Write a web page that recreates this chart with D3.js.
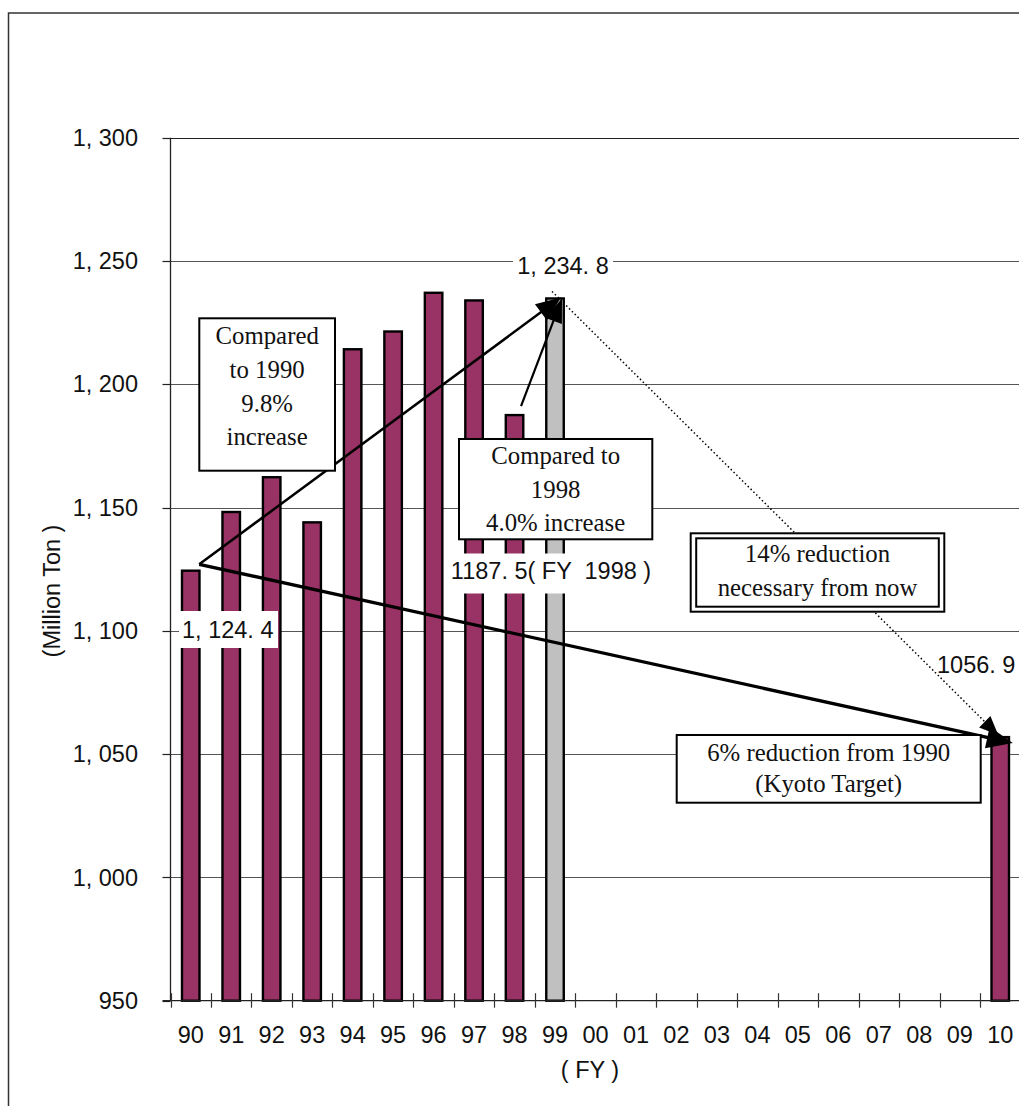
<!DOCTYPE html>
<html>
<head>
<meta charset="utf-8">
<script src="https://cdn.jsdelivr.net/npm/d3@7"></script>
<style>
  html, body { margin: 0; padding: 0; background: #fff; }
  svg { display: block; }
  text { white-space: pre; }
</style>
</head>
<body>
<svg id="chart" width="1019" height="1106"></svg>
<script>
// ---- data ----
const categories = ["90","91","92","93","94","95","96","97","98","99","00","01","02","03","04","05","06","07","08","09","10"];
const values = [1124.4, 1148.2, 1162.3, 1144.0, 1214.2, 1221.4, 1237.1, 1234.0, 1187.5, 1234.8,
                null, null, null, null, null, null, null, null, null, null, 1056.9];
const kinds = ["actual","actual","actual","actual","actual","actual","actual","actual","actual","estimate",
               "","","","","","","","","","","target"];
const yTicks = [950, 1000, 1050, 1100, 1150, 1200, 1250, 1300];
const yTickLabels = ["950", "1, 000", "1, 050", "1, 100", "1, 150", "1, 200", "1, 250", "1, 300"];
const yTitle = "(Million Ton )";
const xTitle = "( FY )";
const valueLabels = ["1, 124. 4", "1187. 5( FY  1998 )", "1, 234. 8", "1056. 9"];
const box1990 = ["Compared", "to 1990", "9.8%", "increase"];
const box1998 = ["Compared to", "1998", "4.0% increase"];
const boxNow = ["14% reduction", "necessary from now"];
const boxKyoto = ["6% reduction from 1990", "(Kyoto Target)"];

// ---- setup ----
const svg = d3.select("#chart");
const W = 1019, H = 1106;
const left = 170.5, step = 40.475;
const x = d3.scaleBand().domain(categories).range([left, left + step * categories.length]).padding(0);
const y = d3.scaleLinear().domain([950, 1300]).range([1000.7, 137.7]);
const cx = c => x(c) + x.bandwidth() / 2;
const right = left + step * categories.length;
const SANS = "'Liberation Sans', Arial, sans-serif";
const SERIF = "'Liberation Serif', 'Times New Roman', serif";
const colors = { actual: "#993366", estimate: "#c0c0c0", target: "#993366" };

// outer frame
svg.append("rect").attr("x", 8.5).attr("y", 13).attr("width", W + 20).attr("height", H + 20)
  .attr("fill", "none").attr("stroke", "#333").attr("stroke-width", 1.5);

// gridlines
svg.append("g").selectAll("line").data(yTicks.filter(v => v > 950)).join("line")
  .attr("x1", left).attr("x2", right)
  .attr("y1", d => Math.round(y(d)) + 0.5).attr("y2", d => Math.round(y(d)) + 0.5)
  .attr("stroke", d => d === 1300 ? "#222" : "#555").attr("stroke-width", 1);

// y ticks and labels
const yg = svg.append("g");
yg.selectAll("line").data(yTicks).join("line")
  .attr("x1", left - 8).attr("x2", left)
  .attr("y1", d => Math.round(y(d)) + 0.5).attr("y2", d => Math.round(y(d)) + 0.5)
  .attr("stroke", "#222").attr("stroke-width", 1.2);
yg.selectAll("text").data(yTicks).join("text")
  .attr("x", 138).attr("y", d => y(d)).attr("dy", "0.35em")
  .attr("text-anchor", "end").attr("font-family", SANS).attr("font-size", 23.5).attr("fill", "#111")
  .text((d, i) => yTickLabels[i]);

// y axis line
svg.append("line").attr("x1", left).attr("x2", left).attr("y1", y(1300)).attr("y2", y(950))
  .attr("stroke", "#222").attr("stroke-width", 1.3);

// y title
svg.append("text").attr("transform", `translate(60,591) rotate(-90)`)
  .attr("text-anchor", "middle").attr("font-family", SANS).attr("font-size", 23.5).attr("fill", "#111")
  .text(yTitle);

// bars
const barW = 17.5;
svg.append("g").selectAll("rect")
  .data(categories.map((c, i) => ({ c, v: values[i], k: kinds[i] })).filter(d => d.v != null))
  .join("rect")
  .attr("x", d => cx(d.c) - barW / 2).attr("width", barW)
  .attr("y", d => y(d.v)).attr("height", d => y(950) - y(d.v))
  .attr("fill", d => colors[d.k]).attr("stroke", "#000").attr("stroke-width", 2.4);

// x axis line and ticks
svg.append("line").attr("x1", left - 8).attr("x2", right).attr("y1", y(950)).attr("y2", y(950))
  .attr("stroke", "#222").attr("stroke-width", 1.3);
svg.append("g").selectAll("line").data(categories).join("line")
  .attr("x1", d => Math.round(x(d)) + 0.5).attr("x2", d => Math.round(x(d)) + 0.5)
  .attr("y1", y(950) - 7.5).attr("y2", y(950) + 7)
  .attr("stroke", "#333").attr("stroke-width", 1.2);
svg.append("g").selectAll("text").data(categories).join("text")
  .attr("x", d => cx(d)).attr("y", 1042.5)
  .attr("text-anchor", "middle").attr("font-family", SANS).attr("font-size", 23.5).attr("fill", "#111")
  .text(d => d);
svg.append("text").attr("x", 590).attr("y", 1078).attr("text-anchor", "middle")
  .attr("font-family", SANS).attr("font-size", 23.5).attr("fill", "#111").text(xTitle);

// ---- arrows ----
function arrow(p1, p2, opt) {
  const L = opt.len, Wd = opt.half;
  const dx = p2[0] - p1[0], dy = p2[1] - p1[1];
  const d = Math.hypot(dx, dy), ux = dx / d, uy = dy / d;
  const bx = p2[0] - ux * L, by = p2[1] - uy * L;
  svg.append("line").attr("x1", p1[0]).attr("y1", p1[1])
    .attr("x2", p2[0] - ux * L * 0.7).attr("y2", p2[1] - uy * L * 0.7)
    .attr("stroke", "#000").attr("stroke-width", opt.w)
    .attr("stroke-dasharray", opt.dash || null);
  svg.append("path")
    .attr("d", `M${p2[0]},${p2[1]} L${bx - uy * Wd},${by + ux * Wd} L${bx + uy * Wd},${by - ux * Wd} Z`)
    .attr("fill", "#000");
}
const start90 = [cx("90") + 8.5, y(1127)];
const top99 = [cx("99") + 6, y(values[9]) - 1];
// dotted: 1998 estimate -> 2010 target
arrow([cx("99") - 3, y(values[9]) - 7], [cx("10") - 2, y(values[20]) - 2], { w: 1.5, len: 19, half: 8, dash: "1.5,2.5" });
// 1990 -> 1999
arrow(start90, top99, { w: 2.5, len: 25, half: 10 });
// 1998 -> 1999
arrow([cx("98") + 6.5, y(values[8]) - 9], [cx("99") + 7, y(values[9])], { w: 2.2, len: 24, half: 9 });
// 1990 -> 2010 target
arrow(start90, [cx("10") + 12.5, y(values[20]) + 6], { w: 3.3, len: 26, half: 11 });

// ---- boxes ----
function box(x0, y0, x1, y1, lines, baselines, double) {
  const g = svg.append("g");
  g.append("rect").attr("x", x0).attr("y", y0).attr("width", x1 - x0).attr("height", y1 - y0)
    .attr("fill", "#fff").attr("stroke", "#000").attr("stroke-width", 2);
  if (double) {
    g.append("rect").attr("x", x0 + 5.5).attr("y", y0 + 5).attr("width", x1 - x0 - 11).attr("height", y1 - y0 - 10)
      .attr("fill", "none").attr("stroke", "#000").attr("stroke-width", 2);
  }
  g.selectAll("text").data(lines).join("text")
    .attr("x", (x0 + x1) / 2).attr("y", (d, i) => baselines[i])
    .attr("text-anchor", "middle").attr("font-family", SERIF).attr("font-size", 24.8).attr("fill", "#111")
    .text(d => d);
}
box(199.3, 318.3, 335, 470.7, box1990, [344, 377.5, 411.5, 445]);
box(459, 439, 652.3, 539.3, box1998, [463.5, 497.5, 530.5]);
box(690.7, 533.3, 944.3, 611.7, boxNow, [562, 595.5], true);
box(676.7, 735, 980.7, 802.7, boxKyoto, [761, 791.5]);

// ---- value labels ----
function label(txt, xc, base, anchor, bg) {
  if (bg) {
    svg.append("rect").attr("x", bg[0]).attr("y", bg[1]).attr("width", bg[2]).attr("height", bg[3]).attr("fill", "#fff");
  }
  svg.append("text").attr("x", xc).attr("y", base).attr("text-anchor", anchor)
    .attr("font-family", SANS).attr("font-size", 23.5).attr("fill", "#111").text(txt);
}
label(valueLabels[0], 182, 637.5, "start", [179, 611, 99, 37]);
label(valueLabels[1], 551, 578.5, "middle", [453, 553.5, 197, 40]);
label(valueLabels[2], 563, 273.5, "middle", [513, 250, 100, 32]);
label(valueLabels[3], 937, 673, "start", null);
</script>
</body>
</html>
